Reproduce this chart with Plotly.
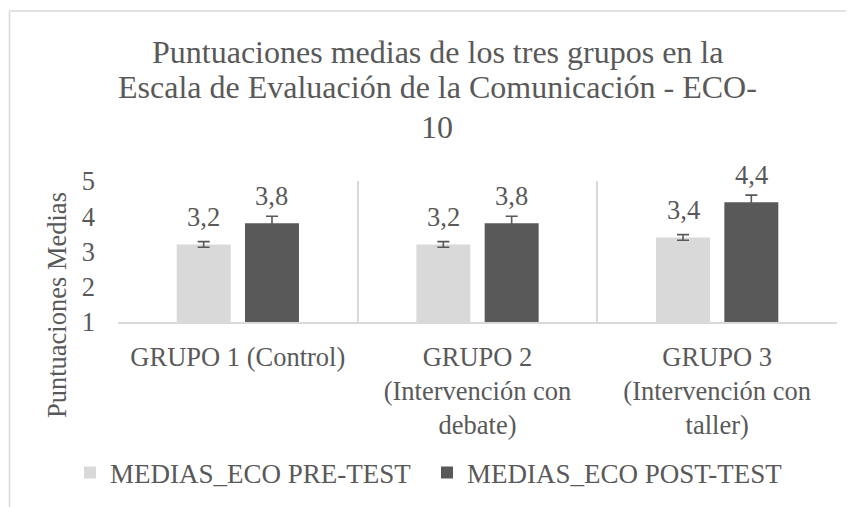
import plotly.graph_objects as go

categories = ["GRUPO 1 (Control)", "GRUPO 2<br>(Intervención con<br>debate)", "GRUPO 3<br>(Intervención con<br>taller)"]
pre_values = [3.2, 3.2, 3.4]
post_values = [3.8, 3.8, 4.4]
pre_err = [0.08, 0.08, 0.08]
post_err = [0.2, 0.2, 0.2]
series_names = ["MEDIAS_ECO PRE-TEST", "MEDIAS_ECO POST-TEST"]
y_ticks = [1, 2, 3, 4, 5]
title_lines = ["Puntuaciones medias de los tres grupos en la",
               "Escala de Evaluación de la Comunicación - ECO-",
               "10"]
y_title = "Puntuaciones Medias"

# page body has an 8px margin: figure is drawn at (8, 8) in the window
OFF = 8
W, H = 854 - OFF, 507 - OFF
L = 118 - OFF
T = 181 - OFF
R = W - (837 - OFF)
B = H - (322 - OFF)
plot_w = W - L - R
plot_h = H - T - B
font_family = "Liberation Serif, Times New Roman, serif"
fs = 26.5
txt = "#595959"
light = "#d9d9d9"
dark = "#595959"
bargap, bargroupgap = 0.43, 0.21


def py(sy):
    """screen pixel row -> paper y"""
    return (H - B - (sy - OFF)) / plot_h


def px(sx):
    return (sx - OFF - L) / plot_w


fig = go.Figure()
fig.add_trace(go.Bar(
    x=categories, y=[v - 1 for v in pre_values], base=1, name=series_names[0],
    marker=dict(color=light, line=dict(width=0)),
    error_y=dict(type="data", array=pre_err, color=dark, thickness=1.6, width=6),
    hoverinfo="skip",
))
fig.add_trace(go.Bar(
    x=categories, y=[v - 1 for v in post_values], base=1, name=series_names[1],
    marker=dict(color=dark, line=dict(width=0)),
    error_y=dict(type="data", array=post_err, color=dark, thickness=1.6, width=6),
    hoverinfo="skip",
))

slot = plot_w / 3 * (1 - bargap) / 2
for vals, sign in [(pre_values, -1), (post_values, 1)]:
    for c, v in zip(categories, vals):
        fig.add_annotation(
            x=c, y=v, xref="x", yref="y", text=f"{v:.1f}".replace(".", ","),
            showarrow=False, xshift=sign * slot / 2, yanchor="middle", yshift=27,
            font=dict(family=font_family, size=fs, color=txt),
        )

# title lines
for line, cy in zip(title_lines, [52, 87, 127]):
    fig.add_annotation(
        x=px(437), y=py(cy), xref="paper", yref="paper", text=line,
        showarrow=False, xanchor="center", yanchor="middle",
        font=dict(family=font_family, size=32, color=txt),
    )

# y axis title
fig.add_annotation(
    x=px(57), y=py(305), xref="paper", yref="paper", text=y_title,
    showarrow=False, textangle=-90, xanchor="center", yanchor="middle",
    font=dict(family=font_family, size=fs, color=txt),
)

fig.update_layout(
    width=W, height=H,
    margin=dict(l=L, r=R, t=T, b=B, autoexpand=False),
    paper_bgcolor="white", plot_bgcolor="white",
    barmode="group", bargap=bargap, bargroupgap=bargroupgap,
    separators=",.",
    font=dict(family=font_family, size=fs, color=txt),
    xaxis=dict(
        tickson="boundaries", showgrid=True, gridcolor=light, gridwidth=1.5,
        showline=True, linecolor=light, linewidth=1.5, ticks="",
        ticklabelstandoff=10, automargin=False,
        tickfont=dict(family=font_family, size=fs, color=txt),
    ),
    yaxis=dict(
        range=[1, 5], tickvals=y_ticks, showgrid=False, zeroline=False,
        showline=False, ticks="", ticklabelstandoff=22, automargin=False,
        tickfont=dict(family=font_family, size=fs, color=txt),
    ),
    legend=dict(
        orientation="h", x=px(70), xanchor="left",
        y=py(473), yanchor="middle",
        font=dict(family=font_family, size=27, color=txt),
        itemwidth=30, tracegroupgap=0, itemclick=False,
        entrywidth=312, entrywidthmode="pixels",
    ),
    showlegend=True,
)

# chart-area border (left edge kept just inside the drawable figure)
fig.add_shape(
    type="rect", xref="paper", yref="paper",
    x0=px(OFF + 1.5), x1=px(854 + 20), y0=py(507 + 20), y1=py(11),
    line=dict(color=light, width=1.5), fillcolor="rgba(0,0,0,0)", layer="below",
)

fig.write_html("out.html")
